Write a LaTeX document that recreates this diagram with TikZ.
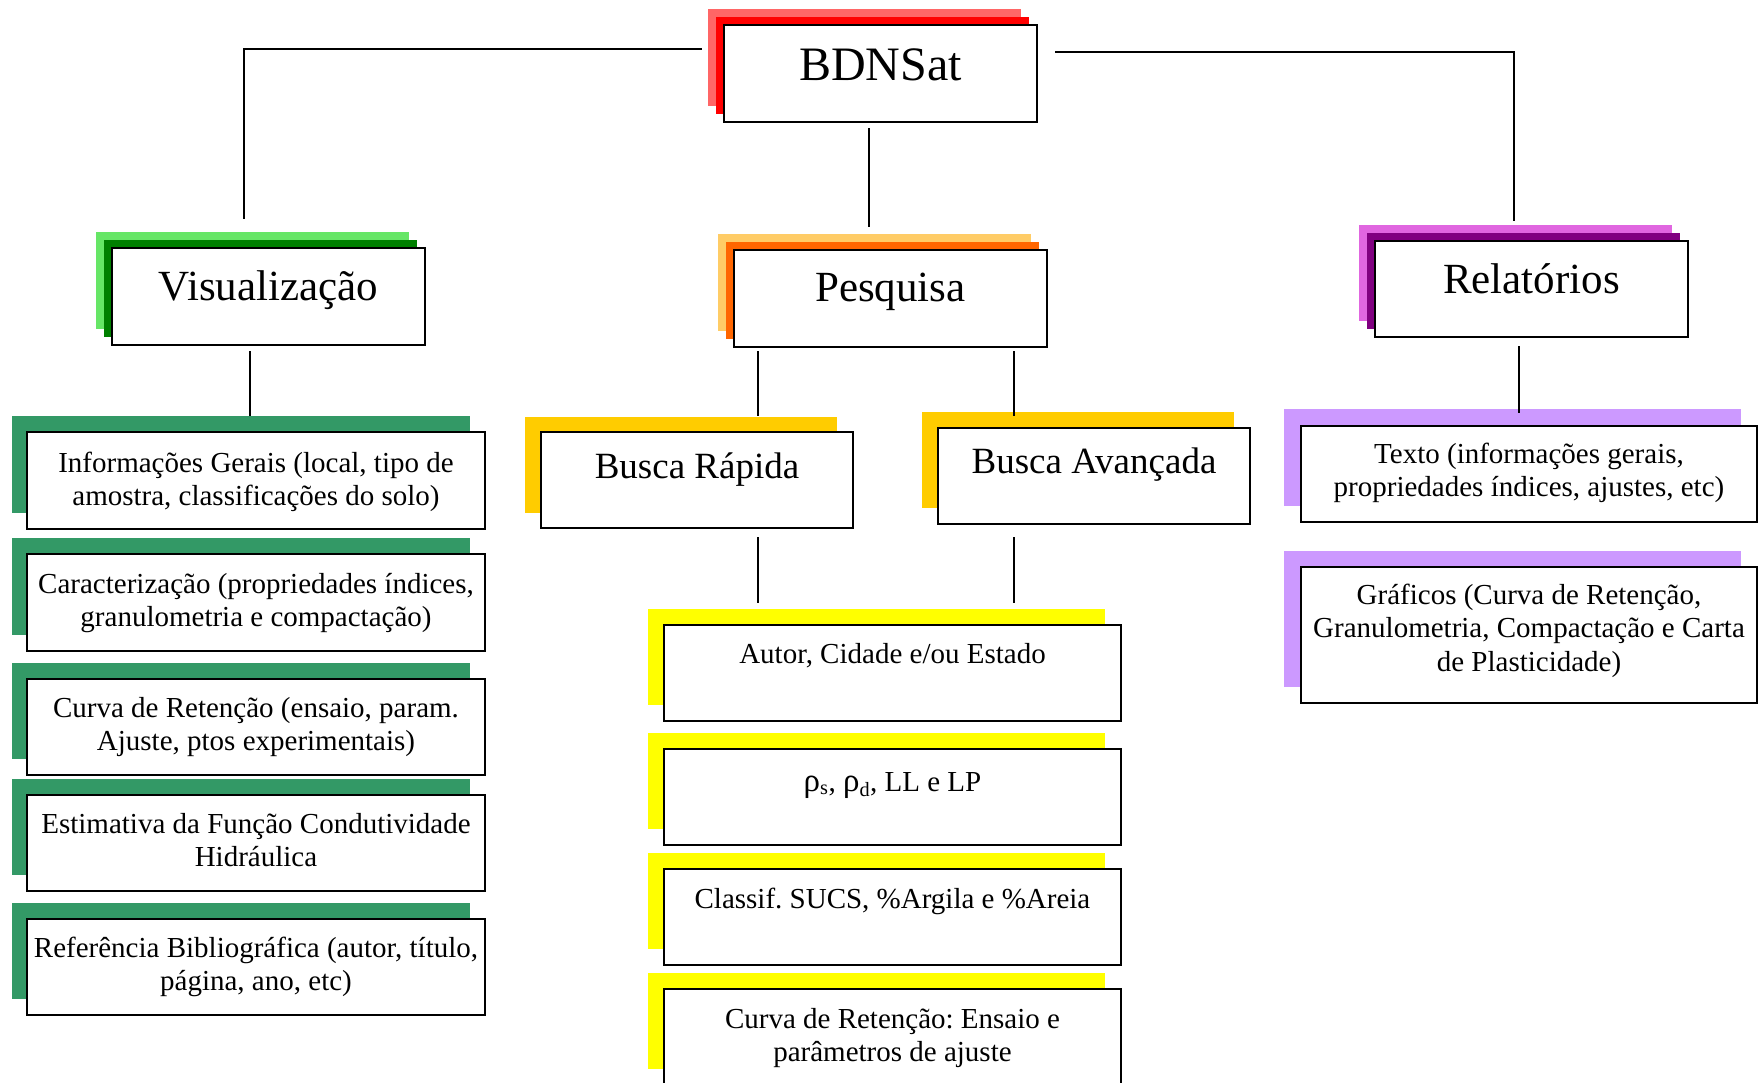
\documentclass[tikz,border=0pt]{standalone}
\usepackage{fontspec}
\setmainfont{Liberation Serif}
\frenchspacing
\definecolor{redL}{HTML}{FF6666}
\definecolor{redD}{HTML}{FF0000}
\definecolor{grnL}{HTML}{66E666}
\definecolor{grnD}{HTML}{008000}
\definecolor{orgL}{HTML}{FFCC66}
\definecolor{orgD}{HTML}{FF6600}
\definecolor{magL}{HTML}{E066E0}
\definecolor{magD}{HTML}{800080}
\definecolor{gold}{HTML}{FFCC00}
\definecolor{yel}{HTML}{FFFF00}
\definecolor{sea}{HTML}{339966}
\definecolor{lav}{HTML}{CC99FF}
\tikzset{
  wbox/.style={draw, line width=1.8pt, fill=white, rectangle, inner sep=0pt, outer sep=0pt, anchor=north west},
  layer/.style={draw=none, rectangle, inner sep=0pt, outer sep=0pt, anchor=north west},
  conn/.style={line width=1.3pt, line cap=rect},
  tbig/.style={font=\fontsize{48}{56}\selectfont, anchor=base, inner sep=0pt},
  tmid/.style={font=\fontsize{43}{50}\selectfont, anchor=base, inner sep=0pt},
  tbus/.style={font=\fontsize{37}{44}\selectfont, anchor=base, inner sep=0pt},
  tsml/.style={font=\fontsize{29}{33.5}\selectfont\frenchspacing, anchor=base, inner sep=0pt},
}
\newcommand{\lyr}[6]{\node[layer, fill=#6, minimum width=#4pt, minimum height=#5pt] (#1) at (#2,#3) {};}
\newcommand{\wbx}[5]{\node[wbox, minimum width=#4pt, minimum height=#5pt] (#1) at (#2,#3) {};}
\newcommand{\lns}[1]{\begin{tabular}[t]{@{}c@{}}#1\end{tabular}}
\newcommand{\rh}{{\fontsize{33}{33.5}\selectfont ρ}}
\begin{document}
\begin{tikzpicture}[x=1pt, y=-1pt]
\fill[white] (0,0) rectangle (1764,1082);
\useasboundingbox (0,0) rectangle (1764,1082);

% ---- top: BDNSat
\lyr{bdA}{708}{9}{313}{97}{redL}
\lyr{bdB}{716}{17}{313}{97}{redD}
\wbx{bd}{724}{25}{313}{97}
\node[tbig] (bdT) at (880.5,80) {BDNSat};

% ---- Visualizacao
\lyr{viA}{96}{232}{313}{97}{grnL}
\lyr{viB}{104}{240}{313}{97}{grnD}
\wbx{vi}{112}{248}{313}{97}
\node[tmid] (viT) at (268.5,300) {Visualização};

% ---- Pesquisa
\lyr{peA}{718}{234}{313}{97}{orgL}
\lyr{peB}{726}{242}{313}{97}{orgD}
\wbx{pe}{734}{250}{313}{97}
\node[tmid] (peT) at (890.5,301) {Pesquisa};

% ---- Relatorios
\lyr{reA}{1359}{225}{313}{96}{magL}
\lyr{reB}{1367}{233}{313}{96}{magD}
\wbx{re}{1375}{241}{313}{96}
\node[tmid] (reT) at (1531.5,293) {Relatórios};

% ---- Busca
\lyr{brA}{525}{417}{312}{96}{gold}
\wbx{br}{541}{432}{312}{96}
\node[tbus] (brT) at (697,478) {Busca Rápida};
\lyr{baA}{922}{412}{312}{96}{gold}
\wbx{ba}{938}{428}{312}{96}
\node[tbus] (baT) at (1094,473) {Busca Avançada};

% ---- left column
\lyr{v1A}{12}{416}{458}{97}{sea}
\wbx{v1}{27}{432}{458}{97}
\node[tsml] (v1T) at (256,472) {\lns{Informações Gerais (local, tipo de\\amostra, classificações do solo)}};
\lyr{v2A}{12}{538}{458}{97}{sea}
\wbx{v2}{27}{554}{458}{97}
\node[tsml] (v2T) at (256,593) {\lns{Caracterização (propriedades índices,\\granulometria e compactação)}};
\lyr{v3A}{12}{663}{458}{96}{sea}
\wbx{v3}{27}{679}{458}{96}
\node[tsml] (v3T) at (256,717) {\lns{Curva de Retenção (ensaio, param.\\Ajuste, ptos experimentais)}};
\lyr{v4A}{12}{779}{458}{96}{sea}
\wbx{v4}{27}{795}{458}{96}
\node[tsml] (v4T) at (256,833) {\lns{Estimativa da Função Condutividade\\Hidráulica}};
\lyr{v5A}{12}{903}{458}{96}{sea}
\wbx{v5}{27}{919}{458}{96}
\node[tsml] (v5T) at (256,957) {\lns{Referência Bibliográfica (autor, título,\\página, ano, etc)}};

% ---- middle column
\lyr{p1A}{648}{609}{457}{96}{yel}
\wbx{p1}{664}{625}{457}{96}
\node[tsml] (p1T) at (892.5,663) {Autor, Cidade e/ou Estado};
\lyr{p2A}{648}{733}{457}{96}{yel}
\wbx{p2}{664}{749}{457}{96}
\node[tsml] (p2T) at (892.5,791) {\rh\textsubscript{s}, \rh\textsubscript{d}, LL e LP};
\lyr{p3A}{648}{853}{457}{96}{yel}
\wbx{p3}{664}{869}{457}{96}
\node[tsml] (p3T) at (892.5,908) {Classif. SUCS, \%Argila e \%Areia};
\lyr{p4A}{648}{973}{457}{96}{yel}
\wbx{p4}{664}{989}{457}{96}
\node[tsml] (p4T) at (892.5,1028) {\lns{Curva de Retenção: Ensaio e\\parâmetros de ajuste}};

% ---- right column
\lyr{r1A}{1284}{409}{457}{97}{lav}
\wbx{r1}{1301}{426}{456}{96}
\node[tsml] (r1T) at (1529,463) {\lns{Texto (informações gerais,\\propriedades índices, ajustes, etc)}};
\lyr{r2A}{1284}{551}{457}{136}{lav}
\wbx{r2}{1301}{567}{456}{136}
\node[tsml] (r2T) at (1529,604) {\lns{Gráficos (Curva de Retenção,\\Granulometria, Compactação e Carta\\de Plasticidade)}};

% ---- connectors
\coordinate (cBL) at (701,49);
\coordinate (cVT) at (244,218);
\coordinate (cBR) at (1056,52);
\coordinate (cRT) at (1514,220);
\coordinate (cBB) at (869,129);
\coordinate (cPT) at (869,226);
\coordinate (cVB) at (250,352);
\coordinate (cV1) at (250,415);
\coordinate (cPL) at (758,352);
\coordinate (cBRt) at (758,415);
\coordinate (cPR) at (1014,352);
\coordinate (cBAt) at (1014,415);
\coordinate (cBRb) at (758,538);
\coordinate (cP1l) at (758,602);
\coordinate (cBAb) at (1014,538);
\coordinate (cP1r) at (1014,602);
\coordinate (cRB) at (1519,347);
\coordinate (cR1) at (1519,412);

\draw[conn] (cBL) -| (cVT);
\draw[conn] (cBR) -| (cRT);
\draw[conn] (cBB) -- (cPT);
\draw[conn] (cVB) -- (cV1);
\draw[conn] (cPL) -- (cBRt);
\draw[conn] (cPR) -- (cBAt);
\draw[conn] (cBRb) -- (cP1l);
\draw[conn] (cBAb) -- (cP1r);
\draw[conn] (cRB) -- (cR1);
\end{tikzpicture}
\end{document}
